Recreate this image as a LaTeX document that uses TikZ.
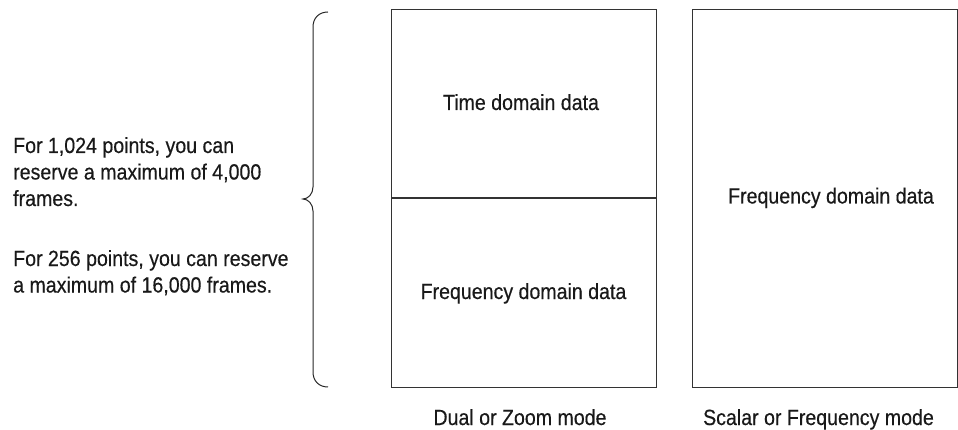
\documentclass[tikz,border=0pt]{standalone}
\usepackage{fontspec}
\setmainfont[FakeStretch=0.89,FakeBold=0.4]{Liberation Sans}
\begin{document}
\begin{tikzpicture}[x=1pt,y=-1pt,
  txt/.style={font=\fontsize{22}{26}\selectfont, inner sep=0pt, text=black!90},
  lbl/.style={txt, anchor=base west},
  ctr/.style={txt, anchor=base},
  frame/.style={draw=black!80, line width=1.2pt},
  brace/.style={draw=black!85, line width=1pt}]
\useasboundingbox (0,0) rectangle (958,430);

% boxes
\node[frame, minimum width=265pt, minimum height=378pt, inner sep=0pt, anchor=north west] (dual) at (391,9) {};
\node[frame, minimum width=265pt, minimum height=378pt, inner sep=0pt, anchor=north west] (scalar) at (692,9) {};
\coordinate (divL) at (391,198);
\coordinate (divR) at (656,198);
\draw[frame] (divL) -- (divR);

% texts in boxes
\node[ctr] (time) at (521,110) {Time domain data};
\node[ctr] (freqA) at (523.5,299) {Frequency domain data};
\node[ctr] (freqB) at (831,203.5) {Frequency domain data};
\node[ctr] (capA) at (520,425) {Dual or Zoom mode};
\node[ctr] (capB) at (818.5,425) {Scalar or Frequency mode};

% brace
\coordinate (bt) at (328,12);
\coordinate (bb) at (328,387);
\coordinate (tip) at (303,199);
\draw[brace] (bt) .. controls (319,12) and (313,18) .. (313,27)
  -- (313,187) .. controls (313,194) and (308,199) .. (tip)
  .. controls (308,199) and (313,204) .. (313,211)
  -- (313,372) .. controls (313,381) and (319,387) .. (bb);

% left texts
\node[lbl] (l1) at (13,153) {For 1,024 points, you can};
\node[lbl] (l2) at (13,179.5) {reserve a maximum of 4,000};
\node[lbl] (l3) at (13,206) {frames.};
\node[lbl] (l4) at (13,266) {For 256 points, you can reserve};
\node[lbl] (l5) at (13,292.5) {a maximum of 16,000 frames.};
\end{tikzpicture}
\end{document}
